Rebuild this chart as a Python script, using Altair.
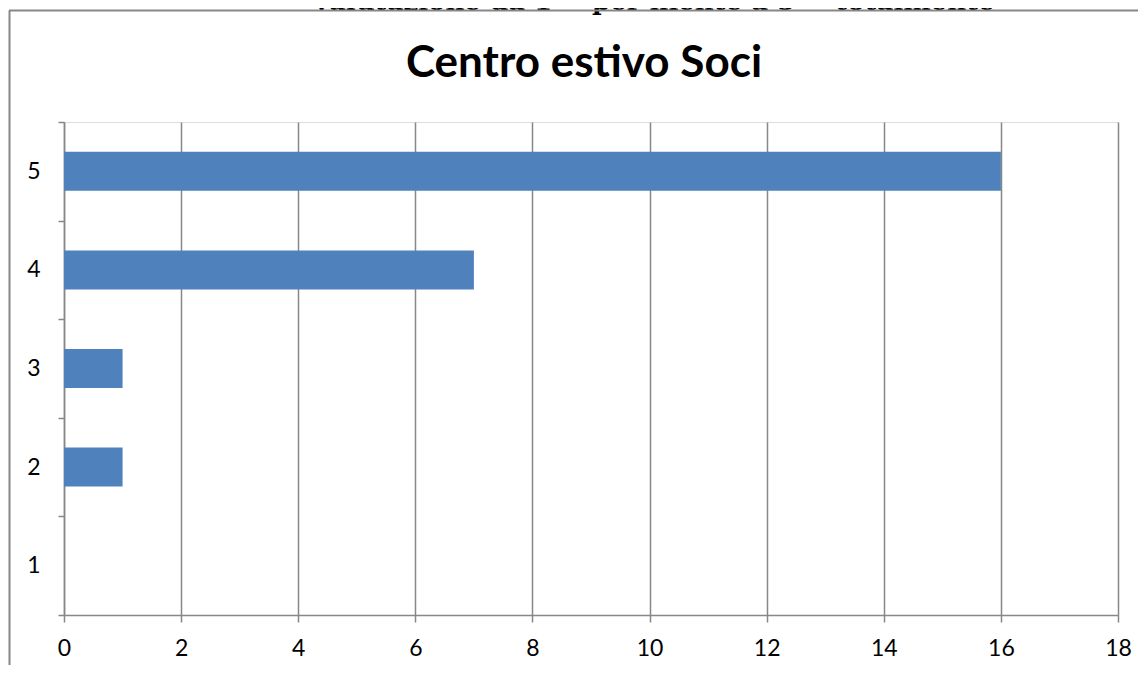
import altair as alt
import pandas as pd

ratings = [5, 4, 3, 2, 1]
counts = [16, 7, 1, 1, 0]
x_ticks = [0, 2, 4, 6, 8, 10, 12, 14, 16, 18]
y_ticks = [0.5, 1, 1.5, 2, 2.5, 3, 3.5, 4, 4.5, 5, 5.5]
title_text = "Centro estivo Soci"
top_text = "Valutazione da 1 = per niente a 5 = totalmente"

df = pd.DataFrame({"rating": ratings, "n": counts})

W, H = 1054, 493
GRAY = "#878787"
LABEL_FONT = "Lato"

bars = alt.Chart(df).mark_bar(color="#4F81BD", orient="horizontal", size=39).encode(
    x=alt.X("n:Q",
            scale=alt.Scale(domain=[0, 18], nice=False, padding=0),
            axis=alt.Axis(values=x_ticks, title=None, grid=True, gridColor=GRAY,
                          gridOpacity=1, gridWidth=1.5, domainColor=GRAY,
                          domainWidth=1.5, tickColor=GRAY, tickWidth=1.5,
                          tickSize=7, labelFontSize=23, labelColor="#000000",
                          labelFont=LABEL_FONT, labelPadding=15, labelFlush=False)),
    y=alt.Y("rating:Q",
            scale=alt.Scale(domain=[0.5, 5.5], nice=False, zero=False, padding=0),
            axis=alt.Axis(title=None, values=y_ticks, grid=False,
                          labelExpr="datum.value % 1 == 0 ? format(datum.value, 'd') : ''",
                          tickOpacity=alt.condition("datum.value % 1 == 0", alt.value(0), alt.value(1)),
                          domainColor=GRAY, domainWidth=1.5, tickColor=GRAY,
                          tickWidth=1.5, tickSize=6, labelFontSize=23,
                          labelColor="#000000", labelFont=LABEL_FONT,
                          labelPadding=18, labelFlush=False)),
)

title = alt.Chart(pd.DataFrame({"t": [title_text]})).mark_text(
    font="Lato", fontSize=44, fontWeight="bold", color="#000000",
    align="center", baseline="alphabetic"
).encode(text="t:N", x=alt.value(520), y=alt.value(-45))

top = alt.Chart(pd.DataFrame({"t": [top_text]})).mark_text(
    font="DejaVu Serif", fontSize=26, fontWeight="bold", color="#000000",
    align="center", baseline="alphabetic"
).encode(text="t:N", x=alt.value(589), y=alt.value(-112))

frame_top = alt.Chart(pd.DataFrame({"a": [0]})).mark_rule(color=GRAY, strokeWidth=2).encode(
    x=alt.value(-55), x2=alt.value(1100), y=alt.value(-111.5))
frame_left = alt.Chart(pd.DataFrame({"a": [0]})).mark_rule(color=GRAY, strokeWidth=2).encode(
    x=alt.value(-54.5), y=alt.value(-111.5), y2=alt.value(560))

chart = alt.layer(top, frame_top, frame_left, bars, title).properties(
    width=W, height=H,
    padding={"left": 56, "top": 114, "right": 20, "bottom": 50},
    autosize=alt.AutoSizeParams(type="none"),
).configure_view(strokeOpacity=0, strokeWidth=0).configure(background="white")

chart.save("out.html", embed_options={"renderer": "svg", "actions": False})
